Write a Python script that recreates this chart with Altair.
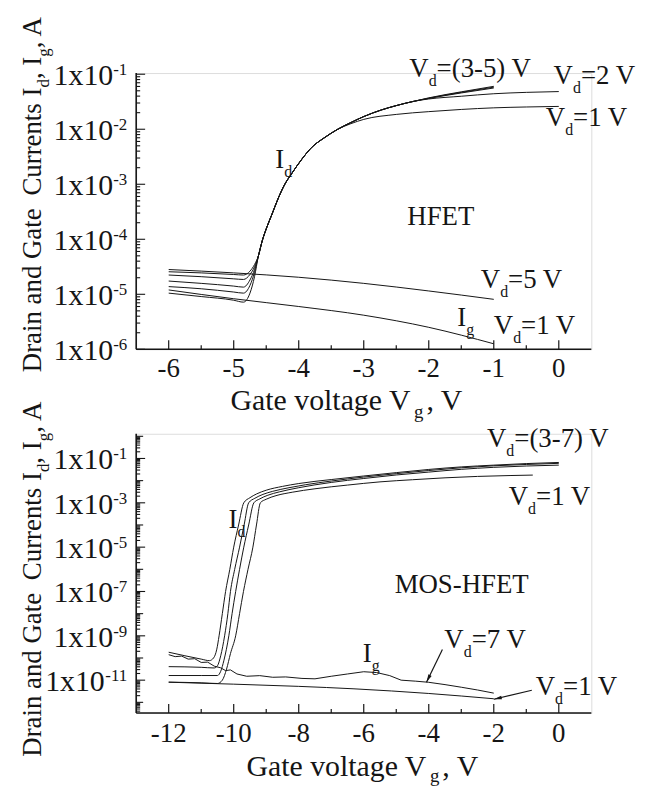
import altair as alt
import pandas as pd

# ---------------------------------------------------------------- data
# HFET (top panel): gate voltage (V) and currents (A)
HFET_SUB_VG = [-6.0, -5.5, -5.0, -4.85, -4.75, -4.68]
HFET_ID_SUB = {
    "5": [2.57e-5, 2.45e-5, 2.29e-5, 2.24e-5, 2.63e-5, 3.47e-5],
    "4": [2.24e-5, 2.09e-5, 1.91e-5, 1.86e-5, 2.29e-5, 3.16e-5],
    "3": [1.74e-5, 1.58e-5, 1.41e-5, 1.35e-5, 1.82e-5, 2.82e-5],
    "2": [1.38e-5, 1.26e-5, 1.10e-5, 1.05e-5, 1.45e-5, 2.51e-5],
    "1": [1.05e-5, 9.1e-6, 7.8e-6, 7.2e-6, 1.05e-5, 2.09e-5],
}
HFET_ON_VG = [-4.62, -4.56, -4.49, -4.41, -4.31, -4.21, -4.11, -3.95, -3.80, -3.60, -3.40]
HFET_ON_ID = [5.0e-5, 9.5e-5, 1.66e-4, 2.88e-4, 5.75e-4, 1.02e-3, 1.55e-3, 2.88e-3, 4.68e-3, 7.08e-3, 1.0e-2]
HFET_VD1_VG = [-3.2, -3.0, -2.5, -2.0, -1.5, -1.0, -0.5, 0.0]
HFET_VD1_ID = [1.26e-2, 1.51e-2, 1.86e-2, 2.09e-2, 2.29e-2, 2.45e-2, 2.54e-2, 2.60e-2]
HFET_HI_VG = [-3.2, -3.0, -2.73, -2.5, -2.22]
HFET_HI_ID = [1.32e-2, 1.70e-2, 2.24e-2, 2.69e-2, 3.24e-2]
HFET_SAT_VG = {"2": [-2.0, -1.5, -1.0, -0.5, 0.0], "3": [-2.0, -1.5, -1.0],
               "4": [-2.0, -1.5, -1.0], "5": [-2.0, -1.5, -1.0]}
HFET_SAT_ID = {"2": [3.55e-2, 3.98e-2, 4.42e-2, 4.68e-2, 4.84e-2],
               "3": [3.63e-2, 4.57e-2, 5.62e-2],
               "4": [3.67e-2, 4.68e-2, 5.82e-2],
               "5": [3.72e-2, 4.79e-2, 6.03e-2]}
HFET_IG_VG = [-6.0, -5.0, -4.0, -3.0, -2.0, -1.0]
HFET_IG = {"5": [2.82e-5, 2.45e-5, 2.04e-5, 1.58e-5, 1.15e-5, 8.1e-6],
           "1": [1.20e-5, 8.3e-6, 6.0e-6, 4.17e-6, 2.51e-6, 1.26e-6]}

# MOS-HFET (bottom panel)
MOS_VD7_VG = [-12.0, -11.5, -11.0, -10.75, -10.62, -10.52, -10.45, -10.35, -10.25, -10.12, -10.0, -9.85,
              -9.69, -9.5, -9.3, -9.0, -8.5, -8.0, -7.0, -6.0, -5.0, -4.0, -3.0, -2.0, -1.0, 0.0]
MOS_VD7_ID = [1.82e-10, 1.26e-10, 8.9e-11, 7.6e-11, 1.0e-10, 2.51e-10, 1e-9, 1e-8, 1e-7, 1e-6, 1e-5, 1e-4,
              1e-3, 1.7e-3, 2.5e-3, 3.7e-3, 5.5e-3, 7.4e-3, 1.12e-2, 1.62e-2, 2.30e-2, 3.20e-2,
              4.17e-2, 5.01e-2, 5.89e-2, 6.61e-2]
MOS_VD5_VG = [-12.0, -11.0, -10.6, -10.5, -10.4, -10.28, -10.18, -10.1, -9.97, -9.82, -9.68, -9.54, -9.35,
              -9.1, -8.8, -8.3, -7.8, -7.0, -6.0, -5.0, -4.0, -3.0, -2.0, -1.0, 0.0]
MOS_VD5_ID = [4.07e-11, 3.80e-11, 3.55e-11, 4.47e-11, 1.26e-10, 1e-9, 1e-8, 1e-7, 1e-6, 1e-5, 1e-4, 1e-3,
              1.6e-3, 2.4e-3, 3.3e-3, 4.8e-3, 6.5e-3, 9.6e-3, 1.45e-2, 2.06e-2, 2.86e-2, 3.80e-2,
              4.68e-2, 5.37e-2, 6.03e-2]
MOS_VD3_VG = [-12.0, -11.0, -10.5, -10.4, -10.3, -10.15, -10.05, -9.94, -9.82, -9.69, -9.54, -9.38, -9.2,
              -8.95, -8.6, -8.0, -7.0, -6.0, -5.0, -4.0, -3.0, -2.0, -1.0, 0.0]
MOS_VD3_ID = [1.62e-11, 1.62e-11, 1.62e-11, 2.51e-11, 7.94e-11, 1e-9, 1e-8, 1e-7, 1e-6, 1e-5, 1e-4, 1e-3,
              1.5e-3, 2.2e-3, 3.1e-3, 4.8e-3, 8.3e-3, 1.25e-2, 1.80e-2, 2.43e-2, 3.24e-2, 3.98e-2,
              4.57e-2, 5.01e-2]
MOS_VD1_VG = [-12.0, -11.0, -10.5, -10.35, -10.22, -10.1, -9.94, -9.82, -9.7, -9.56, -9.41, -9.3, -9.18,
              -9.0, -8.7, -8.2, -7.5, -6.5, -5.5, -4.5, -3.5, -2.5, -1.5, -0.8]
MOS_VD1_ID = [8.13e-12, 7.59e-12, 7.08e-12, 1e-11, 3.16e-11, 1.58e-10, 1e-9, 1e-8, 1e-7, 1e-6, 1e-5, 1e-4,
              1e-3, 1.45e-3, 2.1e-3, 3.0e-3, 4.3e-3, 6.3e-3, 8.8e-3, 1.10e-2, 1.34e-2, 1.55e-2,
              1.70e-2, 1.78e-2]
MOS_IG7_VG = [-12.0, -11.8, -11.6, -11.4, -11.2, -11.0, -10.8, -10.6, -10.4, -10.25, -10.1, -9.9, -9.6,
              -9.2, -8.8, -8.4, -7.9, -7.5, -7.0, -6.5, -6.0, -5.6, -5.2, -4.85, -4.4, -4.0, -3.5, -3.0,
              -2.5, -2.0]
MOS_IG7 = [1.41e-10, 1.15e-10, 1.22e-10, 8.9e-11, 9.3e-11, 6.3e-11, 6.5e-11, 4.3e-11, 3.6e-11, 2.7e-11,
           2.9e-11, 1.9e-11, 1.5e-11, 1.6e-11, 1.35e-11, 1.4e-11, 1.2e-11, 1.15e-11, 1.5e-11, 1.9e-11,
           2.4e-11, 2.2e-11, 1.6e-11, 1.0e-11, 9.0e-12, 8.0e-12, 6.3e-12, 4.8e-12, 3.6e-12, 2.6e-12]
MOS_IG1_VG = [-12.0, -10.0, -8.0, -6.3, -4.0, -2.0]
MOS_IG1 = [8.1e-12, 6.6e-12, 5.25e-12, 4.07e-12, 2.51e-12, 1.45e-12]

# axis ticks and labels
TOP_X_LABELS = [-6, -5, -4, -3, -2, -1, 0]
TOP_X_MINOR = [-5.5, -4.5, -3.5, -2.5, -1.5, -0.5]
TOP_Y_LABELS = [1e-6, 1e-5, 1e-4, 1e-3, 1e-2, 1e-1]
TOP_Y_EXPS = ["-6", "-5", "-4", "-3", "-2", "-1"]
BOT_X_LABELS = [-12, -10, -8, -6, -4, -2, 0]
BOT_X_MINOR = [-11, -9, -7, -5, -3, -1]
BOT_Y_LABELS = [1e-11, 1e-9, 1e-7, 1e-5, 1e-3, 1e-1]
BOT_Y_EXPS = ["-11", "-9", "-7", "-5", "-3", "-1"]
BOT_Y_OTHER = [1e-12, 1e-10, 1e-8, 1e-6, 1e-4, 1e-2, 1e0]

# annotations (anchor in data coordinates: Vg, current)
ANN_TOP = [
    ([("I", ""), ("d", "sub")], -4.36, 2.0e-3),
    ([("V", ""), ("d", "sub"), ("=(3-5) V", "")], -2.30, 8.9e-2),
    ([("V", ""), ("d", "sub"), ("=2 V", "")], -0.08, 6.6e-2),
    ([("V", ""), ("d", "sub"), ("=1 V", "")], -0.20, 1.15e-2),
    ([("HFET", "")], -2.33, 1.8e-4),
    ([("V", ""), ("d", "sub"), ("=5 V", "")], -1.20, 1.32e-5),
    ([("I", ""), ("g", "sub")], -1.56, 2.63e-6),
    ([("V", ""), ("d", "sub"), ("=1 V", "")], -1.00, 1.9e-6),
]
ANN_BOT = [
    ([("I", ""), ("d", "sub")], -10.16, 7.1e-5),
    ([("V", ""), ("d", "sub"), ("=(3-7) V", "")], -2.21, 0.34),
    ([("V", ""), ("d", "sub"), ("=1 V", "")], -1.54, 7.6e-4),
    ([("MOS-HFET", "")], -5.05, 8.7e-8),
    ([("I", ""), ("g", "sub")], -6.03, 6.3e-11),
    ([("V", ""), ("d", "sub"), ("=7 V", "")], -3.52, 2.95e-10),
    ([("V", ""), ("d", "sub"), ("=1 V", "")], -0.71, 2.1e-12),
]
# arrows: start (Vg, I), end (Vg, I), head angle
ARROWS_BOT = [(-3.58, 2.4e-10, -4.07, 8.0e-12, 206), (-0.83, 3.5e-12, -2.0, 1.38e-12, 257)]

# ---------------------------------------------------------------- styling
FONT = "Liberation Serif"
INK = "#151515"
W = 458
H_TOP = 278
H_BOT = 281

TW = {' ': 250, '(': 333, ')': 333, ',': 250, '-': 333, '.': 250, '=': 564,
      'A': 722, 'C': 667, 'D': 722, 'E': 611, 'F': 556, 'G': 722, 'H': 722, 'I': 333, 'M': 889,
      'O': 722, 'S': 556, 'T': 611, 'V': 722, 'a': 444, 'd': 500, 'e': 444, 'g': 500, 'i': 278,
      'l': 278, 'n': 500, 'o': 500, 'r': 333, 's': 389, 't': 278, 'u': 500, 'v': 500, 'x': 500}


def tw(s, size):
    return sum(TW.get(c, 500) for c in s) * size / 1000.0


def rich(pieces, size, sub_size, sub_dy, enc, data, angle=0):
    out = []
    off = 0.0
    for piece in pieces:
        txt, role = piece[0], piece[1]
        gap = piece[2] if len(piece) > 2 else 0
        off += gap
        fs, dy = (sub_size, sub_dy) if role == "sub" else (size, 0)
        props = dict(align="left", baseline="alphabetic", font=FONT, fontSize=fs,
                     color=INK, dx=off, dy=dy)
        if angle:
            props["angle"] = angle
        out.append(alt.Chart(data).mark_text(**props).encode(text=alt.value(txt), **enc))
        off += tw(txt, fs)
    return out


def curves_frame(curves):
    rows = []
    for name, (xs, ys, interp) in curves.items():
        for k, (a, b) in enumerate(zip(xs, ys)):
            rows.append({"curve": name, "k": k, "vg": a, "i": b, "interp": interp})
    return pd.DataFrame(rows)


def panel(curves, xdom, ydom, h, xlab, xminor, ylab, yexps, yother, ann, arrows,
          xlab_dy, xlab_size, xtitle_x, xtitle_dy, xtitle_size, xtitle_subdy, ytitle_y):
    xs = alt.Scale(domain=xdom, nice=False, zero=False)
    ys = alt.Scale(type="log", domain=ydom, nice=False)

    def X(f):
        return alt.X(f, type="quantitative", scale=xs, axis=None)

    def Y(f):
        return alt.Y(f, type="quantitative", scale=ys, axis=None)

    dummy = pd.DataFrame({"a": [0]})
    layers = []
    df = curves_frame(curves)
    for interp in ["monotone", "linear"]:
        sub = df[df["interp"] == interp]
        if len(sub):
            layers.append(alt.Chart(sub).mark_line(color=INK, strokeWidth=1.0, interpolate=interp)
                          .encode(x=X("vg"), y=Y("i"), detail="curve:N", order="k:Q"))
    # axis lines
    layers.append(alt.Chart(dummy).mark_rule(color=INK, strokeWidth=1.6)
                  .encode(x=alt.value(0), y=alt.value(0), y2=alt.value(h)))
    layers.append(alt.Chart(dummy).mark_rule(color=INK, strokeWidth=1.6)
                  .encode(x=alt.value(0), x2=alt.value(W), y=alt.value(h)))
    # x ticks (inward)
    for vals, ln in [(xlab, 9), (xminor, 4)]:
        layers.append(alt.Chart(pd.DataFrame({"v": vals})).mark_rule(color=INK, strokeWidth=1.2)
                      .encode(x=X("v"), y=alt.value(h), y2=alt.value(h - ln)))
    # y ticks (inward)
    lo, hi = ydom
    minors = []
    e = -14
    while e <= 1:
        for m in range(2, 10):
            v = m * 10.0 ** e
            if lo <= v <= hi:
                minors.append(v)
        e += 1
    for vals, ln in [(ylab, 9), (yother, 7), (minors, 4)]:
        if vals:
            layers.append(alt.Chart(pd.DataFrame({"v": vals})).mark_rule(color=INK, strokeWidth=1.1)
                          .encode(y=Y("v"), x=alt.value(0), x2=alt.value(ln)))
    # x tick labels
    layers.append(alt.Chart(pd.DataFrame({"v": xlab, "t": [str(v) for v in xlab]}))
                  .mark_text(font=FONT, fontSize=xlab_size, color=INK, align="center", baseline="alphabetic")
                  .encode(x=X("v"), y=alt.value(h + xlab_dy), text="t:N"))
    # y tick labels: 1x10 with superscript exponent
    ydf = pd.DataFrame({"v": ylab, "e": yexps})
    layers.append(alt.Chart(ydf).mark_text(font=FONT, fontSize=17, color=INK, align="right",
                                           baseline="alphabetic", dy=1)
                  .encode(y=Y("v"), x=alt.value(-9), text="e:N"))
    for L in sorted(set(len(s) for s in yexps)):
        sub = ydf[ydf["e"].str.len() == L]
        we = tw(sub["e"].iloc[0], 17)
        layers.append(alt.Chart(sub).mark_text(font=FONT, fontSize=30, color=INK, align="right",
                                               baseline="alphabetic", dy=11)
                      .encode(y=Y("v"), x=alt.value(-9 - we), text=alt.value("1x10")))
    # annotations
    for pieces, ax, ay in ann:
        d = pd.DataFrame({"x": [ax], "y": [ay]})
        layers += rich(pieces, 27, 16, 9, dict(x=X("x"), y=Y("y")), d)
    # arrows
    for x1, y1, x2, y2, ang in arrows:
        d = pd.DataFrame({"x1": [x1], "y1": [y1], "x2": [x2], "y2": [y2]})
        layers.append(alt.Chart(d).mark_rule(color=INK, strokeWidth=1.2)
                      .encode(x=X("x1"), y=Y("y1"), x2="x2:Q", y2="y2:Q"))
        layers.append(alt.Chart(d).mark_point(shape="M0,0L-0.38,1.7L0.38,1.7Z", filled=True, size=90,
                                              angle=ang, color=INK, opacity=1, strokeWidth=0)
                      .encode(x=X("x2"), y=Y("y2")))
    # axis titles
    layers += rich([("Gate voltage V", ""), ("g", "sub", 3), (", V", "", 3)], xtitle_size, 19, xtitle_subdy,
                   dict(x=alt.value(xtitle_x), y=alt.value(h + xtitle_dy)), dummy)
    layers += rich([("Drain and Gate ", ""), ("Currents I", "", 6), ("d", "sub"), (", I", ""),
                    ("g", "sub"), (", A", "")], 27, 17, 8,
                   dict(x=alt.value(-96), y=alt.value(ytitle_y)), dummy, angle=270)
    return alt.layer(*layers).properties(width=W, height=h)


top_curves = {}
for vd in ["1", "2", "3", "4", "5"]:
    xs_ = HFET_SUB_VG + HFET_ON_VG
    ys_ = HFET_ID_SUB[vd] + HFET_ON_ID
    if vd == "1":
        xs_ = xs_ + HFET_VD1_VG
        ys_ = ys_ + HFET_VD1_ID
    else:
        xs_ = xs_ + HFET_HI_VG + HFET_SAT_VG[vd]
        ys_ = ys_ + HFET_HI_ID + HFET_SAT_ID[vd]
    top_curves["Id Vd=" + vd] = (xs_, ys_, "monotone")
for vd in ["5", "1"]:
    top_curves["Ig Vd=" + vd] = (HFET_IG_VG, HFET_IG[vd], "monotone")

bot_curves = {
    "Id Vd=7": (MOS_VD7_VG, MOS_VD7_ID, "monotone"),
    "Id Vd=5": (MOS_VD5_VG, MOS_VD5_ID, "monotone"),
    "Id Vd=3": (MOS_VD3_VG, MOS_VD3_ID, "monotone"),
    "Id Vd=1": (MOS_VD1_VG, MOS_VD1_ID, "monotone"),
    "Ig Vd=7": (MOS_IG7_VG, MOS_IG7, "linear"),
    "Ig Vd=1": (MOS_IG1_VG, MOS_IG1, "monotone"),
}

top = panel(top_curves, [-6.5, 0.5], [1e-6, 1.05e-1], H_TOP, TOP_X_LABELS, TOP_X_MINOR,
            TOP_Y_LABELS, TOP_Y_EXPS, [], ANN_TOP, [], 28, 27, 95, 61, 30, 8, 301)
bot = panel(bot_curves, [-13, 1], [3.3e-13, 1.3], H_BOT, BOT_X_LABELS, BOT_X_MINOR,
            BOT_Y_LABELS, BOT_Y_EXPS, BOT_Y_OTHER, ANN_BOT, ARROWS_BOT, 29, 27, 111, 63, 30, 6, 325)

chart = (alt.vconcat(top, bot, spacing=85, bounds="flush")
         .properties(padding={"left": 10, "top": 4, "right": 2, "bottom": 0})
         .configure_view(strokeWidth=0)
         .configure(font=FONT))

chart.save("out.html", embed_options={"renderer": "svg", "actions": False})
